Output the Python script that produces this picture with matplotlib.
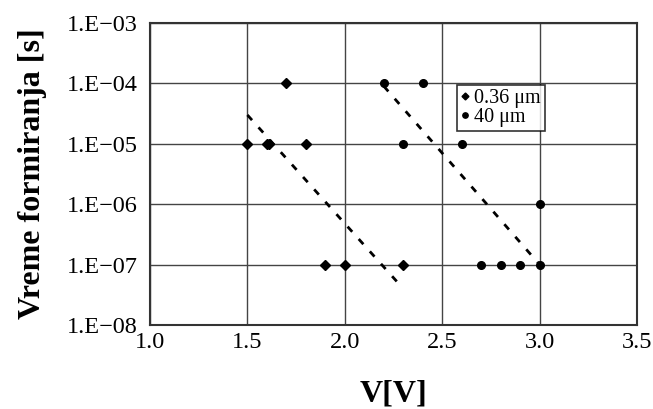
import matplotlib
matplotlib.use('Agg')
import matplotlib.pyplot as plt
from matplotlib.ticker import FixedLocator, FuncFormatter
import numpy as np

# podaci procitani sa slike
v_036 = [1.5, 1.6, 1.61, 1.7, 1.8, 1.9, 2.0, 2.3]
t_036 = [1e-5, 1e-5, 1e-5, 1e-4, 1e-5, 1e-7, 1e-7, 1e-7]
v_40 = [2.2, 2.3, 2.4, 2.6, 2.7, 2.8, 2.9, 3.0, 3.0]
t_40 = [1e-4, 1e-5, 1e-4, 1e-5, 1e-7, 1e-7, 1e-7, 1e-6, 1e-7]

# trend linije (isprekidane)
fit1_v = [1.5, 2.3]
fit1_t = [3e-5, 4e-8]
fit2_v = [2.2, 3.0]
fit2_t = [9e-5, 1e-7]

x_ticks = [1.0, 1.5, 2.0, 2.5, 3.0, 3.5]
y_ticks = [1e-8, 1e-7, 1e-6, 1e-5, 1e-4, 1e-3]

plt.rcParams['font.family'] = ['Liberation Serif', 'DejaVu Serif']

fig = plt.figure(figsize=(6.53, 4.09), dpi=100)
ax = fig.add_axes([150 / 653, 1 - 325 / 409, 487 / 653, 302 / 409])

ax.plot(fit1_v, fit1_t, color='black', linestyle=(0, (2.5, 3.5)), linewidth=2)
ax.plot(fit2_v, fit2_t, color='black', linestyle=(0, (2.5, 3.5)), linewidth=2)
ax.plot(v_036, t_036, 'D', color='black', markersize=5, label='0.36 μm', zorder=3)
ax.plot(v_40, t_40, 'o', color='black', markersize=5.5, label='40 μm', zorder=3)

ax.set_yscale('log')
ax.set_xlim(1.0, 3.5)
ax.set_ylim(1e-8, 1e-3)
ax.xaxis.set_major_locator(FixedLocator(x_ticks))
ax.yaxis.set_major_locator(FixedLocator(y_ticks))
ax.yaxis.set_minor_locator(FixedLocator([]))
ax.xaxis.set_major_formatter(FuncFormatter(lambda v, p: f'{v:.1f}'))
ax.yaxis.set_major_formatter(FuncFormatter(
    lambda v, p: '1.E\u2212%02d' % round(-np.log10(v))))
ax.tick_params(length=0, labelsize=17.5)
ax.tick_params(axis='x', pad=5)
ax.tick_params(axis='y', pad=9)

ax.grid(True, color='#444444', linewidth=1)
for s in ax.spines.values():
    s.set_linewidth(1.5)
    s.set_color('#333333')

ax.set_xlabel('V[V]', fontsize=23, fontweight='bold')
ax.xaxis.set_label_coords(0.5, -0.18)
ax.set_ylabel('Vreme formiranja [s]', fontsize=23, fontweight='bold', labelpad=14)

leg = ax.legend(loc='upper left', bbox_to_anchor=(0.63, 0.795), fontsize=14.5,
                frameon=True, fancybox=False, handlelength=0.4, handletextpad=0.25,
                borderpad=0.2, labelspacing=0.0, borderaxespad=0, markerscale=0.7)
leg.get_frame().set_edgecolor('black')
leg.get_frame().set_linewidth(1.2)

fig.savefig('out.png', dpi=100)
